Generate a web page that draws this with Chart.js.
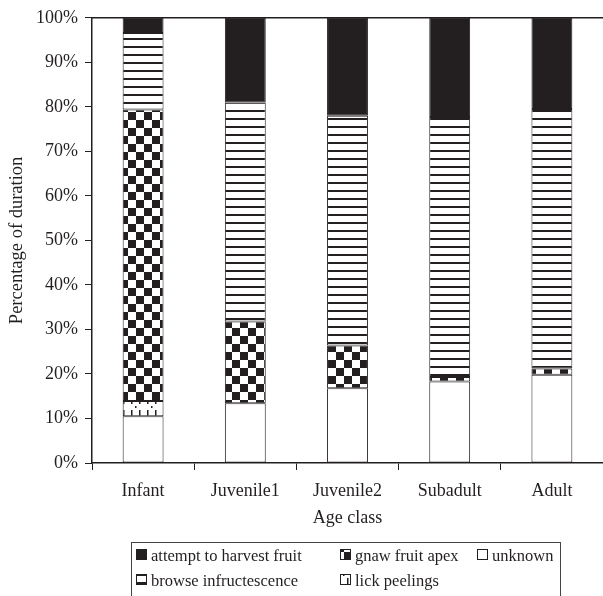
<!DOCTYPE html>
<html>
<head>
<meta charset="utf-8">
<script src="https://cdn.jsdelivr.net/npm/chart.js@4.4.1/dist/chart.umd.min.js"></script>
<style>
  html, body { margin: 0; padding: 0; background: #fff; }
  #wrap { width: 603px; height: 596px; }
</style>
</head>
<body>
<div id="wrap"><canvas id="ageChart" width="603" height="596"></canvas></div>
<script>
const categories = ["Infant", "Juvenile1", "Juvenile2", "Subadult", "Adult"];
const unknown = [10.5, 13.4, 16.8, 18.3, 19.8];
const lickPeelings = [3.4, 0, 0, 0, 0];
const gnawFruitApex = [65.5, 18.4, 9.6, 1.0, 1.4];
const browseInfructescence = [17.2, 49.2, 51.6, 58.4, 58.3];
const attemptHarvest = [3.4, 19.0, 22.0, 22.3, 20.5];

const INK = "#231f20";
const SERIF = "'Liberation Serif', 'Times New Roman', serif";

// little tiles for the fill patterns
function makePattern(w, h, paint) {
  const c = document.createElement("canvas");
  c.width = w;
  c.height = h;
  const g = c.getContext("2d");
  g.fillStyle = "#fff";
  g.fillRect(0, 0, w, h);
  g.fillStyle = INK;
  paint(g);
  return g.createPattern(c, "repeat");
}

const ctx = document.getElementById("ageChart").getContext("2d");

const checker = makePattern(16, 16, g => {
  g.fillRect(0, 0, 8, 8);
  g.fillRect(8, 8, 8, 8);
});
const stripes = makePattern(8, 8, g => {
  g.fillRect(0, 6, 8, 2);
});
const dashes = makePattern(16, 12, g => {
  g.fillRect(3, 2, 1.5, 6);
  g.fillRect(11, 2, 1.5, 6);
  g.fillRect(7, 10, 1.5, 2);
});

const seriesDefs = [
  { label: "unknown", data: unknown, fill: "#fff" },
  { label: "lick peelings", data: lickPeelings, fill: dashes },
  { label: "gnaw fruit apex", data: gnawFruitApex, fill: checker },
  { label: "browse infructescence", data: browseInfructescence, fill: stripes },
  { label: "attempt to harvest fruit", data: attemptHarvest, fill: INK }
];

const datasets = seriesDefs.map(s => ({
  label: s.label,
  data: s.data,
  backgroundColor: s.fill,
  borderColor: INK,
  borderWidth: 1,
  borderSkipped: false,
  categoryPercentage: 0.4,
  barPercentage: 1
}));

// top frame line + boxed legend under the axis
const framePlugin = {
  id: "frame",
  afterDraw(chart) {
    const { ctx, chartArea } = chart;
    ctx.save();
    ctx.strokeStyle = INK;
    ctx.lineWidth = 1.5;
    ctx.beginPath();
    ctx.moveTo(chartArea.left, chartArea.top);
    ctx.lineTo(chart.width, chartArea.top);
    ctx.stroke();

    // legend box
    ctx.lineWidth = 1;
    ctx.strokeStyle = "#444";
    ctx.strokeRect(131.5, 542.5, 429, 70);

    const items = chart.data.datasets.slice().reverse();
    const colX = [136, 340, 477];
    const rowY = [549, 574];
    ctx.font = "16.5px " + SERIF;
    ctx.textBaseline = "alphabetic";
    ctx.textAlign = "left";
    items.forEach((ds, i) => {
      const col = Math.floor(i / 2);
      const row = i % 2;
      const x = colX[col];
      const y = rowY[row];
      ctx.fillStyle = ds.backgroundColor;
      ctx.fillRect(x, y, 10, 10);
      ctx.strokeStyle = INK;
      ctx.lineWidth = 1;
      ctx.strokeRect(x + 0.5, y + 0.5, 10, 10);
      ctx.fillStyle = INK;
      ctx.fillText(ds.label, x + 15, y + 12);
    });
    ctx.restore();
  }
};

new Chart(ctx, {
  type: "bar",
  data: { labels: categories, datasets: datasets },
  options: {
    responsive: false,
    animation: false,
    layout: { padding: { top: 16, right: 0, bottom: 67, left: 0 } },
    plugins: {
      legend: { display: false },
      tooltip: { enabled: false }
    },
    scales: {
      x: {
        stacked: true,
        afterFit: s => { s.height = 66; },
        grid: { offset: true, drawOnChartArea: false, color: INK, tickLength: 7 },
        border: { color: INK, width: 1.5 },
        ticks: { color: INK, font: { family: SERIF, size: 18 }, padding: 10 },
        title: {
          display: true,
          text: "Age class",
          color: INK,
          font: { family: SERIF, size: 18 },
          padding: { top: 0, bottom: 0 }
        }
      },
      y: {
        stacked: true,
        min: 0,
        max: 100,
        afterFit: s => { s.width = 92; },
        grid: { drawOnChartArea: false, color: INK, tickLength: 7 },
        border: { color: INK, width: 1.5 },
        ticks: {
          stepSize: 10,
          color: INK,
          font: { family: SERIF, size: 18 },
          padding: 7,
          callback: v => v + "%"
        },
        title: {
          display: true,
          text: "Percentage of duration",
          color: INK,
          font: { family: SERIF, size: 18.5 },
          padding: { top: 6, bottom: 0 }
        }
      }
    }
  },
  plugins: [framePlugin]
});
</script>
</body>
</html>
